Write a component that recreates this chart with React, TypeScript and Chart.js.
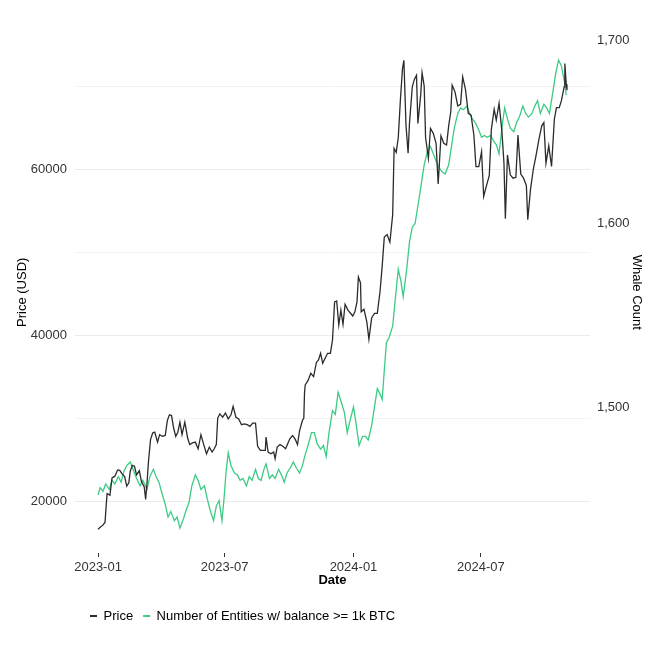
import React, { useEffect, useRef } from "react";
import { Chart, registerables } from "chart.js";

Chart.register(...registerables);

// Days since 2023-01-01
const priceDays = [
  0, 3, 7, 10, 12, 13, 17, 20, 24, 28, 31, 34, 38, 41, 44, 46, 49, 52, 55, 59,
  62, 66, 68, 70, 72, 75, 78, 81, 85, 88, 92, 96, 99, 102, 105, 108, 111, 114, 117, 120,
  124, 128, 131, 135, 139, 143, 147, 151, 155, 159, 163, 166, 169, 171, 174, 178, 182, 186, 190, 193,
  197, 201, 205, 209, 213, 217, 221, 225, 228, 232, 236, 239, 240, 243, 247, 251, 253, 256, 260, 264,
  268, 271, 274, 278, 282, 285, 288, 292, 294, 295, 296, 300, 304, 308, 312, 315, 318, 321, 325, 328,
  332, 335, 338, 341, 344, 347, 350, 353, 357, 361, 364, 367, 370, 372, 375, 376, 380, 384, 387, 391,
  395, 399, 403, 406, 409, 413, 417, 421, 423, 426, 429, 432, 435, 437, 440, 443, 445, 449, 452, 455,
  457, 461, 463, 466, 468, 472, 475, 479, 483, 486, 490, 494, 498, 501, 504, 506, 510, 514, 518, 521,
  525, 529, 533, 537, 540, 544, 548, 551, 555, 559, 562, 566, 569, 573, 577, 580, 582, 585, 589, 593,
  597, 600, 604, 608, 612, 614, 618, 622, 626, 630, 634, 637, 640, 644, 648, 652, 655, 659, 662, 666,
  667, 669, 670,
];
const priceValues = [
  16600, 16850, 17100, 17450, 19900, 20900, 20700, 22800, 23000, 23750, 23700, 23300, 22950, 21800, 22200, 23600, 24300, 24200, 23150, 23650,
  22350, 21700, 20200, 22200, 24700, 27400, 28200, 28300, 27100, 28000, 27800, 27900, 29700, 30400, 30300, 28800, 27800, 28300, 29500, 28000,
  29500, 27600, 26800, 27000, 27100, 26300, 28000, 26800, 25700, 26500, 25900, 26300, 26800, 30000, 30500, 30100, 30600, 29900, 30400, 31400,
  30100, 29900, 29200, 29300, 29200, 29000, 29400, 29400, 26600, 26100, 26100, 26100, 27700, 25900, 25700, 25900, 25100, 26500, 26800, 26600,
  26300, 26900, 27500, 27900, 27400, 26800, 28500, 29700, 30000, 33000, 34000, 34500, 35400, 35000, 36700, 37000, 37800, 36600, 37300, 37800,
  37800, 39400, 44000, 44100, 41200, 43000, 41300, 43700, 43000, 42600, 42300, 42800, 44000, 47000, 46300, 42800, 43100, 41600, 39500, 42100,
  42600, 42600, 45300, 48300, 51800, 52100, 51200, 54500, 62500, 62000, 63800, 68300, 72100, 73100, 65300, 61900, 65500, 69900, 70800, 71300,
  65500, 68900, 71600, 70000, 63800, 61300, 64900, 64300, 63100, 58200, 64000, 63100, 62900, 65200, 66900, 70100, 69300, 67600, 67800, 71100,
  69600, 66700, 66500, 64100, 60300, 60300, 62100, 56700, 58000, 59200, 64800, 67200, 65900, 67900, 64600, 60700, 54000, 61700, 59300, 58900,
  59000, 64100, 59400, 58900, 58000, 53900, 57600, 60000, 61700, 63600, 65200, 65600, 60700, 62800, 60300, 66000, 67400, 67400, 68200, 69900,
  72700, 70200, 69500,
];

const whaleDays = [
  0, 3, 7, 11, 16, 20, 24, 29, 33, 37, 41, 46, 50, 54, 60, 64, 70, 74, 79, 83,
  87, 92, 96, 100, 104, 109, 113, 117, 122, 126, 130, 134, 139, 143, 147, 152, 156, 160, 165, 169,
  173, 177, 180, 183, 186, 190, 195, 199, 203, 207, 212, 216, 220, 225, 229, 233, 237, 240, 245, 249,
  253, 258, 262, 266, 270, 275, 279, 283, 288, 292, 296, 300, 305, 309, 313, 318, 322, 326, 330, 335,
  339, 343, 348, 352, 356, 361, 365, 369, 373, 378, 382, 386, 391, 395, 399, 403, 406, 409, 412, 416,
  421, 425, 429, 433, 436, 441, 445, 449, 453, 458, 462, 466, 471, 475, 479, 484, 488, 492, 496, 501,
  505, 509, 514, 518, 522, 527, 531, 535, 539, 544, 548, 552, 556, 561, 565, 569, 573, 578, 581, 585,
  589, 594, 598, 602, 607, 611, 615, 620, 624, 628, 632, 637, 641, 645, 650, 654, 658, 662, 667, 669,
];
const whaleValues = [
  1452, 1456, 1454, 1458, 1455, 1460, 1458, 1462, 1459, 1465, 1468, 1470, 1466, 1462, 1457, 1460, 1455, 1462, 1466, 1462,
  1459, 1452, 1447, 1440, 1443, 1438, 1440, 1434, 1439, 1444, 1448, 1457, 1463, 1460, 1455, 1457, 1450, 1444, 1438, 1446,
  1449, 1438, 1450, 1465, 1475, 1468, 1464, 1463, 1460, 1461, 1457, 1462, 1460, 1466, 1461, 1460, 1466, 1469, 1461, 1463,
  1461, 1466, 1463, 1459, 1464, 1467, 1470, 1467, 1464, 1468, 1474, 1479, 1486, 1486, 1480, 1477, 1479, 1473, 1486, 1498,
  1496, 1508, 1502, 1497, 1486, 1494, 1500, 1490, 1479, 1484, 1484, 1482, 1490, 1500, 1510, 1507, 1504, 1520, 1535, 1538,
  1544, 1560, 1575, 1568, 1560, 1575, 1590, 1598, 1600, 1612, 1622, 1632, 1640, 1642, 1638, 1633, 1630, 1628, 1627, 1632,
  1642, 1652, 1660, 1663, 1662, 1664, 1660, 1657, 1655, 1651, 1647, 1648, 1647, 1648, 1645, 1643, 1638, 1655, 1663, 1657,
  1652, 1650, 1655, 1658, 1664, 1660, 1658, 1660, 1664, 1667, 1660, 1665, 1663, 1660, 1672, 1682, 1689, 1686, 1676, 1670,
];

const xTickDays = [0, 181, 365, 547];
const xTickLabels = ["2023-01", "2023-07", "2024-01", "2024-07"];
const priceTicks = [20000, 30000, 40000, 50000, 60000, 70000];
const whaleTicks = [1500, 1600, 1700];

const FONT = "'Liberation Sans', Arial, Helvetica, sans-serif";
const TICK_COLOR = "#333333";

export default function App() {
  const ref = useRef<HTMLCanvasElement | null>(null);

  useEffect(() => {
    if (!ref.current) return;
    const shiftLegend = {
      id: "shiftLegend",
      afterLayout(chart: any) {
        const l = chart.legend;
        if (l) {
          l.left += 80;
          l.right += 80;
        }
      },
    };
    const chart = new Chart(ref.current, {
      type: "line",
      data: {
        datasets: [
          {
            label: "Price",
            data: priceDays.map((d, i) => ({ x: d, y: priceValues[i] })),
            borderColor: "#2B2B2B",
            backgroundColor: "#2B2B2B",
            borderWidth: 1.3,
            pointRadius: 0,
            tension: 0,
            yAxisID: "y",
          },
          {
            label: "Number of Entities w/ balance >= 1k BTC",
            data: whaleDays.map((d, i) => ({ x: d, y: whaleValues[i] })),
            borderColor: "#3CCB83",
            backgroundColor: "#3CCB83",
            borderWidth: 1.3,
            pointRadius: 0,
            tension: 0,
            yAxisID: "y1",
          },
        ],
      },
      options: {
        animation: false,
        responsive: false,
        devicePixelRatio: 1,
        layout: { padding: { top: 31.6, bottom: 28.5, left: 0, right: 0 } },
        plugins: {
          legend: {
            position: "bottom",
            align: "start",
            labels: {
              boxWidth: 7,
              boxHeight: 2,
              padding: 10,
              color: "#000",
              font: { family: FONT, size: 13 },
              generateLabels: (c: any) =>
                Chart.defaults.plugins.legend.labels
                  .generateLabels(c)
                  .map((l: any) => ({ ...l, lineWidth: 0 })),
            },
          },
          tooltip: { enabled: false },
        },
        scales: {
          x: {
            type: "linear",
            min: -33.5,
            max: 703.5,
            afterBuildTicks: (s: any) => {
              s.ticks = xTickDays.map((v) => ({ value: v }));
            },
            afterFit: (s: any) => {
              s.height = 46.5;
            },
            ticks: {
              autoSkip: false,
              maxRotation: 0,
              padding: 2.2,
              color: TICK_COLOR,
              font: { family: FONT, size: 13 },
              callback: (v: any) => {
                const i = xTickDays.indexOf(Number(v));
                return i >= 0 ? xTickLabels[i] : "";
              },
            },
            grid: {
              display: true,
              drawOnChartArea: false,
              drawTicks: true,
              tickLength: 4,
              color: "#333333",
              lineWidth: 1,
            },
            border: { display: false },
            title: {
              display: true,
              text: "Date",
              color: "#000",
              font: { family: FONT, size: 13, weight: "bold" },
              padding: { top: 0, bottom: 11.7 },
            },
          },
          y: {
            type: "linear",
            position: "left",
            min: 13745,
            max: 76555,
            afterBuildTicks: (s: any) => {
              s.ticks = priceTicks.map((v) => ({ value: v }));
            },
            afterFit: (s: any) => {
              s.width = 74.6;
            },
            ticks: {
              padding: 7.6,
              color: TICK_COLOR,
              font: { family: FONT, size: 13 },
              callback: (v: any) => (Number(v) % 20000 === 0 ? String(v) : ""),
            },
            grid: {
              drawTicks: false,
              color: "#EBEBEB",
              lineWidth: (c: any) => (c.tick && c.tick.value % 20000 === 0 ? 1 : 0.6),
            },
            border: { display: false },
            title: {
              display: true,
              text: "Price (USD)",
              color: "#000",
              font: { family: FONT, size: 13 },
              padding: { top: 14.2, bottom: 0 },
            },
          },
          y1: {
            type: "linear",
            position: "right",
            min: 1420.4,
            max: 1704.6,
            afterBuildTicks: (s: any) => {
              s.ticks = whaleTicks.map((v) => ({ value: v }));
            },
            afterFit: (s: any) => {
              s.width = 70.6;
            },
            ticks: {
              padding: 6.6,
              color: TICK_COLOR,
              font: { family: FONT, size: 13 },
              callback: (v: any) => Number(v).toLocaleString("en-US"),
            },
            grid: { display: false, drawTicks: false },
            border: { display: false },
            title: {
              display: true,
              text: "Whale Count",
              color: "#000",
              font: { family: FONT, size: 13 },
              padding: { top: 16.2, bottom: 0 },
            },
          },
        },
      },
      plugins: [shiftLegend],
    } as any);
    return () => chart.destroy();
  }, []);

  return (
    <div
      style={{
        position: "fixed",
        left: 0,
        top: 0,
        width: 661,
        height: 661,
        background: "#fff",
      }}
    >
      <canvas ref={ref} width={661} height={661} style={{ width: 661, height: 661 }} />
    </div>
  );
}
